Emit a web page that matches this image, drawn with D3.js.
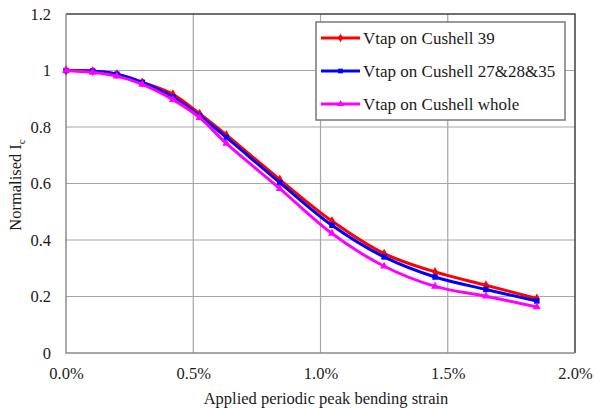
<!DOCTYPE html>
<html>
<head>
<meta charset="utf-8">
<script src="https://cdn.jsdelivr.net/npm/d3@7"></script>
<style>
  html, body { margin: 0; padding: 0; background: #fff; }
  svg text { font-family: "Liberation Serif", "Times New Roman", serif !important; }
</style>
</head>
<body>
<svg id="chart" width="595" height="409"></svg>
<script>
// Applied periodic peak bending strain (%)
const strain = [0, 0.105, 0.2, 0.3, 0.42, 0.525, 0.63, 0.84, 1.045, 1.25, 1.45, 1.65, 1.85];

// Normalised Ic for each voltage-tap placement
const cushell39 = [1.0, 0.998, 0.987, 0.958, 0.916, 0.847, 0.772, 0.614, 0.467, 0.352, 0.287, 0.240, 0.193];
const cushell272835 = [1.0, 0.998, 0.987, 0.958, 0.906, 0.840, 0.763, 0.603, 0.452, 0.340, 0.269, 0.225, 0.184];
const cushellWhole = [1.0, 0.993, 0.980, 0.951, 0.897, 0.833, 0.742, 0.582, 0.423, 0.307, 0.236, 0.201, 0.163];

const seriesNames = ["Vtap on Cushell 39", "Vtap on Cushell 27&28&35", "Vtap on Cushell whole"];
const seriesColors = ["#ff0000", "#0000ff", "#ff00ff"];
const seriesSymbols = [d3.symbolDiamond, d3.symbolSquare, d3.symbolTriangle];

const xTicks = [0, 0.5, 1.0, 1.5, 2.0];
const yTicks = [0, 0.2, 0.4, 0.6, 0.8, 1, 1.2];

const series = [cushell39, cushell272835, cushellWhole].map((vals, i) => ({
  name: seriesNames[i],
  color: seriesColors[i],
  symbol: seriesSymbols[i],
  points: strain.map((s, j) => [s, vals[j]])
}));

const svg = d3.select("#chart");
const plot = { left: 66, right: 575, top: 14, bottom: 353 };

const x = d3.scaleLinear().domain([0, 2]).range([plot.left, plot.right]);
const y = d3.scaleLinear().domain([0, 1.2]).range([plot.bottom, plot.top]);

// gridlines
svg.append("g")
  .selectAll("line")
  .data(xTicks.slice(1, -1))
  .join("line")
  .attr("x1", d => x(d)).attr("x2", d => x(d))
  .attr("y1", plot.top).attr("y2", plot.bottom)
  .attr("stroke", "#a6a6a6").attr("stroke-width", 1.2);

svg.append("g")
  .selectAll("line")
  .data(yTicks.slice(1, -1))
  .join("line")
  .attr("x1", plot.left).attr("x2", plot.right)
  .attr("y1", d => y(d)).attr("y2", d => y(d))
  .attr("stroke", "#a6a6a6").attr("stroke-width", 1.2);

// plot frame: dark top/right, lighter axes
svg.append("path")
  .attr("d", `M${plot.left},${plot.top}H${plot.right}V${plot.bottom}`)
  .attr("fill", "none").attr("stroke", "#404040").attr("stroke-width", 1.5);
svg.append("path")
  .attr("d", `M${plot.left},${plot.top}V${plot.bottom}H${plot.right}`)
  .attr("fill", "none").attr("stroke", "#8c8c8c").attr("stroke-width", 1.5);

// axes (labels only; frame lines drawn above)
const xAxis = d3.axisBottom(x).tickValues(xTicks).tickSize(0).tickPadding(14)
  .tickFormat(d => d.toFixed(1) + "%");
svg.append("g")
  .attr("transform", `translate(0,${plot.bottom})`)
  .call(xAxis)
  .call(g => g.select(".domain").remove())
  .call(g => g.selectAll("text")
    .attr("font-size", 16.5).attr("fill", "#1a1a1a"));

const yAxis = d3.axisLeft(y).tickValues(yTicks).tickSize(0).tickPadding(15)
  .tickFormat(d => d3.format("~g")(d));
svg.append("g")
  .attr("transform", `translate(${plot.left},0)`)
  .call(yAxis)
  .call(g => g.select(".domain").remove())
  .call(g => g.selectAll("text")
    .attr("font-size", 16.5).attr("fill", "#1a1a1a"));

// axis titles
svg.append("text")
  .attr("x", 326).attr("y", 404)
  .attr("text-anchor", "middle")
  .attr("font-size", 16.5).attr("fill", "#1a1a1a")
  .text("Applied periodic peak bending strain");

const yTitle = svg.append("text")
  .attr("transform", "translate(21,185) rotate(-90)")
  .attr("text-anchor", "middle")
  .attr("font-size", 16.5).attr("fill", "#1a1a1a");
yTitle.append("tspan").text("Normalised I");
yTitle.append("tspan").attr("font-size", 11).attr("dy", 4).text("c");

// series lines and markers
const line = d3.line()
  .x(d => x(d[0])).y(d => y(d[1]))
  .curve(d3.curveCatmullRom.alpha(0.5));

const gSeries = svg.append("g");
series.forEach(s => {
  const g = gSeries.append("g");
  g.append("path")
    .attr("d", line(s.points))
    .attr("fill", "none")
    .attr("stroke", s.color)
    .attr("stroke-width", 3);
  g.selectAll("path.m")
    .data(s.points)
    .join("path")
    .attr("class", "m")
    .attr("transform", d => `translate(${x(d[0])},${y(d[1])})`)
    .attr("d", d3.symbol().type(s.symbol).size(s.symbol === d3.symbolSquare ? 30 : 28))
    .attr("fill", s.color);
});

// legend
const legend = svg.append("g");
legend.append("rect")
  .attr("x", 316).attr("y", 22)
  .attr("width", 249).attr("height", 98)
  .attr("fill", "#fff")
  .attr("stroke", "#7a7a7a").attr("stroke-width", 1.5);

series.forEach((s, i) => {
  const ly = 38 + i * 33;
  legend.append("line")
    .attr("x1", 321).attr("x2", 360)
    .attr("y1", ly).attr("y2", ly)
    .attr("stroke", s.color).attr("stroke-width", 3);
  legend.append("path")
    .attr("transform", `translate(340.5,${ly})`)
    .attr("d", d3.symbol().type(s.symbol).size(22))
    .attr("fill", s.color);
  legend.append("text")
    .attr("x", 363).attr("y", ly)
    .attr("dy", "0.35em")
    .attr("font-size", 17).attr("fill", "#1a1a1a")
    .text(s.name);
});
</script>
</body>
</html>
